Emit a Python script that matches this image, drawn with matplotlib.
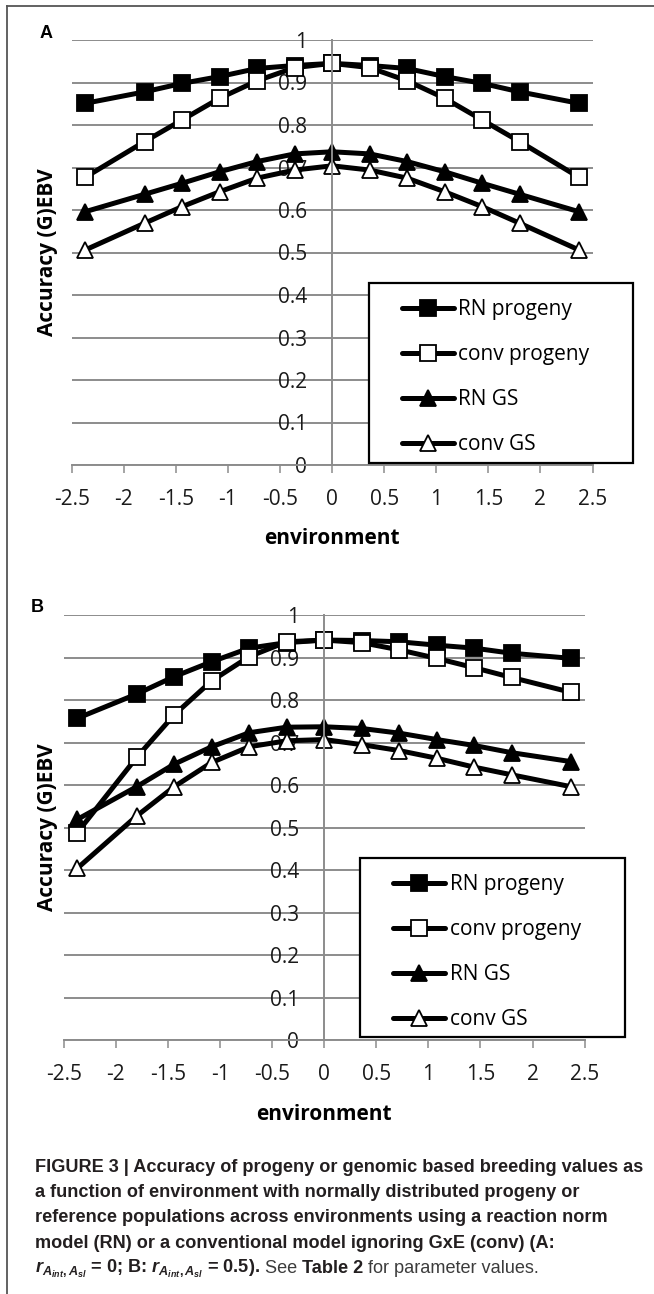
import matplotlib
matplotlib.use("Agg")
import numpy as np
import matplotlib.pyplot as plt
from matplotlib.lines import Line2D
from matplotlib.patches import Rectangle
from matplotlib.ticker import FuncFormatter

# environment values (x) shared by both panels
env = [-2.37, -1.8, -1.44, -1.08, -0.72, -0.36, 0, 0.36, 0.72, 1.08, 1.44, 1.8, 2.37]
names = ["RN progeny", "conv progeny", "RN GS", "conv GS"]

# panel A: r(Aint, Asl) = 0
rn_prog_a = [0.851, 0.878, 0.898, 0.914, 0.933, 0.940, 0.945, 0.940, 0.933, 0.914, 0.898, 0.878, 0.851]
conv_prog_a = [0.677, 0.761, 0.812, 0.863, 0.904, 0.935, 0.945, 0.935, 0.904, 0.863, 0.812, 0.761, 0.677]
rn_gs_a = [0.596, 0.637, 0.663, 0.690, 0.714, 0.732, 0.737, 0.732, 0.714, 0.690, 0.663, 0.637, 0.596]
conv_gs_a = [0.506, 0.569, 0.608, 0.643, 0.675, 0.694, 0.704, 0.694, 0.675, 0.643, 0.608, 0.569, 0.506]

# panel B: r(Aint, Asl) = 0.5
rn_prog_b = [0.757, 0.814, 0.855, 0.890, 0.922, 0.935, 0.941, 0.940, 0.937, 0.929, 0.922, 0.910, 0.898]
conv_prog_b = [0.488, 0.665, 0.765, 0.845, 0.902, 0.937, 0.941, 0.935, 0.918, 0.898, 0.876, 0.853, 0.818]
rn_gs_b = [0.519, 0.596, 0.649, 0.690, 0.723, 0.736, 0.737, 0.733, 0.722, 0.707, 0.693, 0.676, 0.655]
conv_gs_b = [0.404, 0.527, 0.596, 0.653, 0.690, 0.704, 0.707, 0.695, 0.681, 0.663, 0.642, 0.624, 0.596]

y_ticks = [0, 0.1, 0.2, 0.3, 0.4, 0.5, 0.6, 0.7, 0.8, 0.9, 1]
x_ticks = [-2.5, -2, -1.5, -1, -0.5, 0, 0.5, 1, 1.5, 2, 2.5]

markers = ["s", "s", "^", "^"]
msizes = [11, 11, 12, 12]
faces = ["black", "white", "black", "white"]

W, H = 654, 1294
fig = plt.figure(figsize=(W / 100, H / 100), dpi=100)

CHART_FONT = "Open Sans"
GRID = "#8c8c8c"


def fx(x):
    return x / W


def fy(y):
    return 1 - y / H


def panel(series, left, right, top, bottom, letter, leg):
    ax = fig.add_axes([fx(left), fy(bottom), (right - left) / W, (bottom - top) / H])
    for vals, name, m, ms, fc in zip(series, names, markers, msizes, faces):
        ax.plot(env, vals, color="black", lw=3.6, marker=m, ms=ms, mfc=fc,
                mec="black", mew=1.3, label=name, clip_on=False,
                solid_capstyle="round", solid_joinstyle="round")
    ax.set_xlim(-2.5, 2.5)
    ax.set_ylim(0, 1)
    ax.set_yticks(y_ticks)
    ax.set_xticks(x_ticks)
    fmt = FuncFormatter(lambda v, p: "%g" % v)
    ax.xaxis.set_major_formatter(fmt)
    ax.yaxis.set_major_formatter(fmt)
    ax.yaxis.grid(True, color=GRID, lw=1.4)
    for s in ["top", "right"]:
        ax.spines[s].set_visible(False)
    ax.spines["left"].set_position(("data", 0))
    ax.spines["left"].set_color(GRID)
    ax.spines["left"].set_linewidth(1.4)
    ax.spines["bottom"].set_color(GRID)
    ax.spines["bottom"].set_linewidth(1.4)
    ax.tick_params(axis="y", length=0, pad=18, labelsize=15)
    ax.tick_params(axis="x", direction="out", length=6, width=1.1, color=GRID,
                   pad=11, labelsize=15)
    for lab in ax.get_xticklabels() + ax.get_yticklabels():
        lab.set_family(CHART_FONT)
        lab.set_color("#1a1a1a")

    # axis titles
    fig.text(fx((left + right) / 2), fy(bottom + 74), "environment", family=CHART_FONT,
             fontweight="bold", fontsize=15, ha="center", va="center")
    fig.text(fx(48), fy((top + bottom) / 2), "Accuracy (G)EBV", family=CHART_FONT,
             fontweight="bold", fontsize=15, rotation=90, ha="center", va="center")
    fig.text(fx(left - 26), fy(top - 7), letter, family="Liberation Sans",
             fontweight="bold", fontsize=13, ha="center", va="center")

    # legend box
    bx0, by0, bx1, by1 = leg
    ax.add_patch(Rectangle(((bx0 - left) / (right - left), (bottom - by1) / (bottom - top)),
                           (bx1 - bx0) / (right - left), (by1 - by0) / (bottom - top),
                           transform=ax.transAxes, fc="white", ec="black", lw=1.6,
                           clip_on=False, zorder=3))
    leg_ = ax.legend(loc="upper left", frameon=False,
                     bbox_to_anchor=((bx0 + 33 - left) / (right - left),
                                     (bottom - by0 - 16) / (bottom - top)),
                     bbox_transform=ax.transAxes, borderpad=0, borderaxespad=0,
                     handlelength=2.5, handletextpad=0.2, labelspacing=1.15,
                     prop={"family": CHART_FONT, "size": 15})
    leg_.set_zorder(6)
    return ax


panel([rn_prog_a, conv_prog_a, rn_gs_a, conv_gs_a], 71.7, 592.5, 40, 465, "A",
      (368.75, 283, 633.3, 463))
panel([rn_prog_b, conv_prog_b, rn_gs_b, conv_gs_b], 63.75, 584.6, 615, 1040, "B",
      (360.4, 858, 625, 1037))

# outer frame (top and left only)
fig.add_artist(Line2D([fx(7), fx(7)], [fy(6), 0], transform=fig.transFigure,
                      color="#555555", lw=1.3))
fig.add_artist(Line2D([fx(7), 1], [fy(6), fy(6)], transform=fig.transFigure,
                      color="#555555", lw=1.3))

# caption
plt.rcParams["mathtext.fontset"] = "custom"
plt.rcParams["mathtext.it"] = "Liberation Sans:italic:bold"
plt.rcParams["mathtext.rm"] = "Liberation Sans:bold"
plt.rcParams["mathtext.bf"] = "Liberation Sans:bold"

CAP_FONT = "Liberation Sans"
CAP_SIZE = 13.05
cap_lines = [
    "FIGURE 3 | Accuracy of progeny or genomic based breeding values as",
    "a function of environment with normally distributed progeny or",
    "reference populations across environments using a reaction norm",
    "model (RN) or a conventional model ignoring GxE (conv) (A:",
]
base = [1172, 1197.2, 1222.3, 1247.5, 1272.6]
for line, yb in zip(cap_lines, base):
    fig.text(fx(35), fy(yb), line, family=CAP_FONT, fontweight="bold",
             fontsize=CAP_SIZE, color="#231f20", va="baseline")

pieces = [
    (r"$r_{A_{int},A_{sl}}$ = 0; B: $r_{A_{int},A_{sl}}$ = 0.5).", "bold", "#231f20"),
    (" See ", "normal", "#3c3c3c"),
    ("Table 2", "bold", "#231f20"),
    (" for parameter values.", "normal", "#3c3c3c"),
]
renderer = fig.canvas.get_renderer()
xpos = fx(35)
for txt, wt, col in pieces:
    t = fig.text(xpos, fy(base[4]), txt, family=CAP_FONT, fontweight=wt,
                 fontsize=CAP_SIZE, color=col, va="baseline")
    bb = t.get_window_extent(renderer)
    xpos = bb.x1 / W

fig.savefig("out.png", dpi=100)
